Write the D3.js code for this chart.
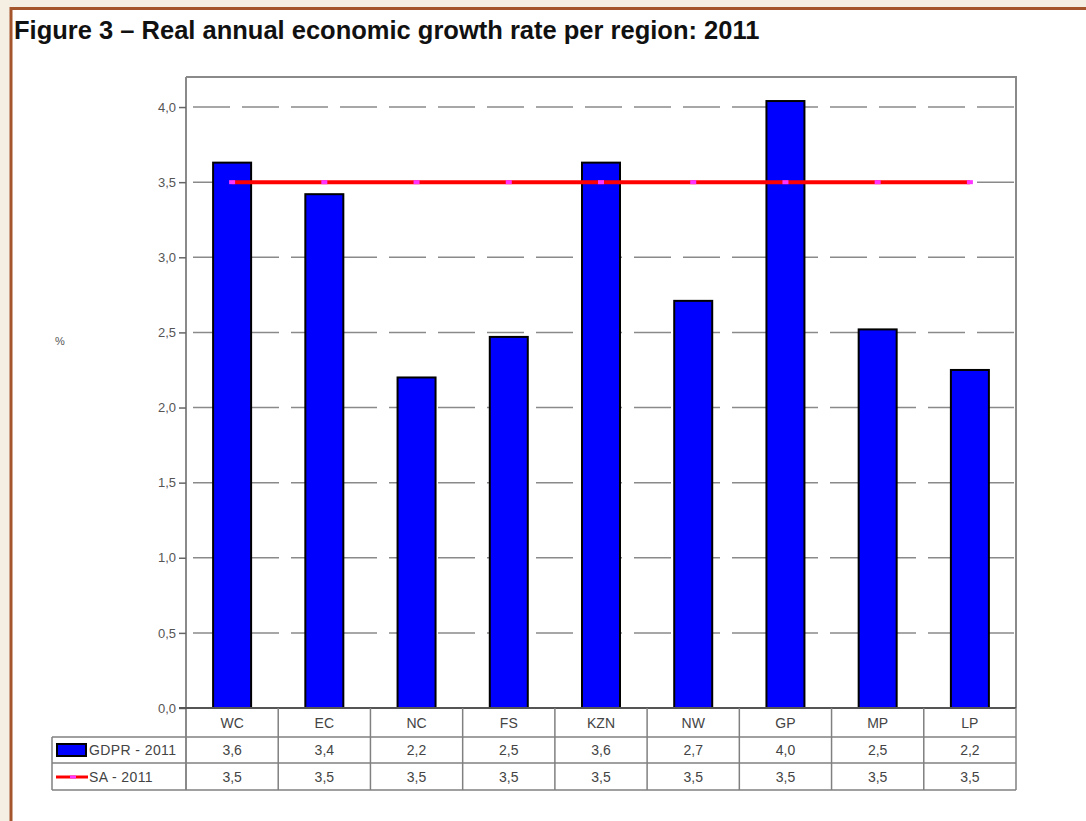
<!DOCTYPE html>
<html lang="en">
<head>
<meta charset="utf-8">
<title>Figure 3 - Real annual economic growth rate per region: 2011</title>
<script src="https://cdn.jsdelivr.net/npm/d3@7"></script>
<style>
body { margin:0; background:#f4eee3; }
svg { display:block; font-family:"Liberation Sans", Arial, sans-serif; }
</style>
</head>
<body>
<script>
var regions = ["WC", "EC", "NC", "FS", "KZN", "NW", "GP", "MP", "LP"];
var gdpr = [3.63, 3.42, 2.2, 2.47, 3.63, 2.71, 4.04, 2.52, 2.25];
var gdprLabels = ["3,6", "3,4", "2,2", "2,5", "3,6", "2,7", "4,0", "2,5", "2,2"];
var sa = [3.5, 3.5, 3.5, 3.5, 3.5, 3.5, 3.5, 3.5, 3.5];
var saLabels = ["3,5", "3,5", "3,5", "3,5", "3,5", "3,5", "3,5", "3,5", "3,5"];
var yTicks = [0, 0.5, 1, 1.5, 2, 2.5, 3, 3.5, 4];
var seriesNames = ["GDPR - 2011", "SA - 2011"];

var W = 1086, H = 821;
var mLeft = 186, mRight = 1016, mTop = 77, mBottom = 708;
var rowH = [29, 26, 27];
var tableLeft = 52;

var svg = d3.select("body").append("svg").attr("width", W).attr("height", H);

// page panel
svg.append("rect").attr("x", 11).attr("y", 8.5).attr("width", W).attr("height", H)
  .attr("fill", "#fff").attr("stroke", "#a4552c").attr("stroke-width", 3);

svg.append("text").attr("x", 14).attr("y", 39)
  .attr("font-size", 25.5).attr("font-weight", "bold").attr("fill", "#111")
  .text("Figure 3 \u2013 Real annual economic growth rate per region: 2011");

var x = d3.scaleBand().domain(regions).range([mLeft, mRight]).paddingInner(0).paddingOuter(0);
var y = d3.scaleLinear().domain([0, 4.2]).range([mBottom, mTop]);
var fmt = function(d) { return d3.format(".1f")(d).replace(".", ","); };

// grid
svg.append("g").selectAll("line").data(yTicks.slice(1)).join("line")
  .attr("x1", mLeft).attr("x2", mRight)
  .attr("y1", d => y(d)).attr("y2", d => y(d))
  .attr("stroke", "#8a8a8a").attr("stroke-width", 1.5)
  .attr("stroke-dasharray", "37,12").attr("stroke-dashoffset", -7);

// frame top/right
svg.append("path")
  .attr("d", `M${mLeft},${mTop}H${mRight}V${mBottom}`)
  .attr("fill", "none").attr("stroke", "#8a8a8a").attr("stroke-width", 2);

// y axis
var yAxis = d3.axisLeft(y).tickValues(yTicks).tickFormat(fmt).tickSize(7).tickPadding(3);
var gy = svg.append("g").attr("transform", `translate(${mLeft},0)`).call(yAxis);
gy.select(".domain").attr("stroke", "#8a8a8a").attr("stroke-width", 2)
  .attr("d", `M0,${mTop}V${mBottom + rowH[0] + rowH[1] + rowH[2]}`);
gy.selectAll(".tick line").attr("stroke", "#666").attr("stroke-width", 1.5);
gy.selectAll(".tick text").attr("fill", "#555").attr("font-size", 13)
  .attr("font-family", "\"Liberation Sans\", Arial, sans-serif");

svg.append("text").attr("x", 55).attr("y", 345).attr("font-size", 11).attr("fill", "#555").text("%");

// bars
var bw = 38;
svg.append("g").selectAll("rect").data(gdpr).join("rect")
  .attr("x", (d, i) => x(regions[i]) + x.bandwidth() / 2 - bw / 2)
  .attr("y", d => y(d))
  .attr("width", bw)
  .attr("height", d => y(0) - y(d))
  .attr("fill", "#0000ff").attr("stroke", "#000").attr("stroke-width", 2);

// SA line
var line = d3.line().x((d, i) => x(regions[i]) + x.bandwidth() / 2).y(d => y(d));
svg.append("path").datum(sa).attr("d", line)
  .attr("fill", "none").attr("stroke", "#ff0000").attr("stroke-width", 4);
svg.append("g").selectAll("rect").data(sa).join("rect")
  .attr("x", (d, i) => x(regions[i]) + x.bandwidth() / 2 - 3)
  .attr("y", d => y(d) - 2)
  .attr("width", 6).attr("height", 4).attr("fill", "#ff33ff");

// x axis baseline
svg.append("line").attr("x1", mLeft - 7).attr("x2", mRight).attr("y1", mBottom).attr("y2", mBottom)
  .attr("stroke", "#555").attr("stroke-width", 2);

// data table
var r1 = mBottom + rowH[0], r2 = r1 + rowH[1], r3 = r2 + rowH[2];
var tg = svg.append("g").attr("stroke", "#808080").attr("stroke-width", 1.5);
tg.append("line").attr("x1", tableLeft).attr("x2", mRight).attr("y1", r1).attr("y2", r1);
tg.append("line").attr("x1", tableLeft).attr("x2", mRight).attr("y1", r2).attr("y2", r2);
tg.append("line").attr("x1", tableLeft).attr("x2", mRight).attr("y1", r3).attr("y2", r3);
tg.append("line").attr("x1", tableLeft).attr("x2", tableLeft).attr("y1", r1).attr("y2", r3);
tg.selectAll(".vl").data(regions).join("line").attr("class", "vl")
  .attr("x1", d => x(d) + x.bandwidth()).attr("x2", d => x(d) + x.bandwidth())
  .attr("y1", mBottom).attr("y2", r3);

var cell = function(labels, yy) {
  svg.append("g").selectAll("text").data(labels).join("text")
    .attr("x", (d, i) => x(regions[i]) + x.bandwidth() / 2)
    .attr("y", yy).attr("text-anchor", "middle")
    .attr("font-size", 14).attr("fill", "#444").text(d => d);
};
cell(regions, mBottom + 20);
cell(gdprLabels, r1 + 18);
cell(saLabels, r2 + 19);

// legend cells
svg.append("rect").attr("x", 57).attr("y", r1 + 7).attr("width", 29).attr("height", 12)
  .attr("fill", "#0000ff").attr("stroke", "#000").attr("stroke-width", 2);
svg.append("text").attr("x", 89).attr("y", r1 + 18).attr("font-size", 14).attr("letter-spacing", 0.4)
  .attr("fill", "#444").text(seriesNames[0]);
svg.append("line").attr("x1", 56).attr("x2", 88).attr("y1", r2 + 14).attr("y2", r2 + 14)
  .attr("stroke", "#ff0000").attr("stroke-width", 3);
svg.append("rect").attr("x", 70).attr("y", r2 + 12.5).attr("width", 6).attr("height", 3).attr("fill", "#ff33ff");
svg.append("text").attr("x", 89).attr("y", r2 + 19).attr("font-size", 14).attr("letter-spacing", 0.4)
  .attr("fill", "#444").text(seriesNames[1]);
</script>
</body>
</html>
